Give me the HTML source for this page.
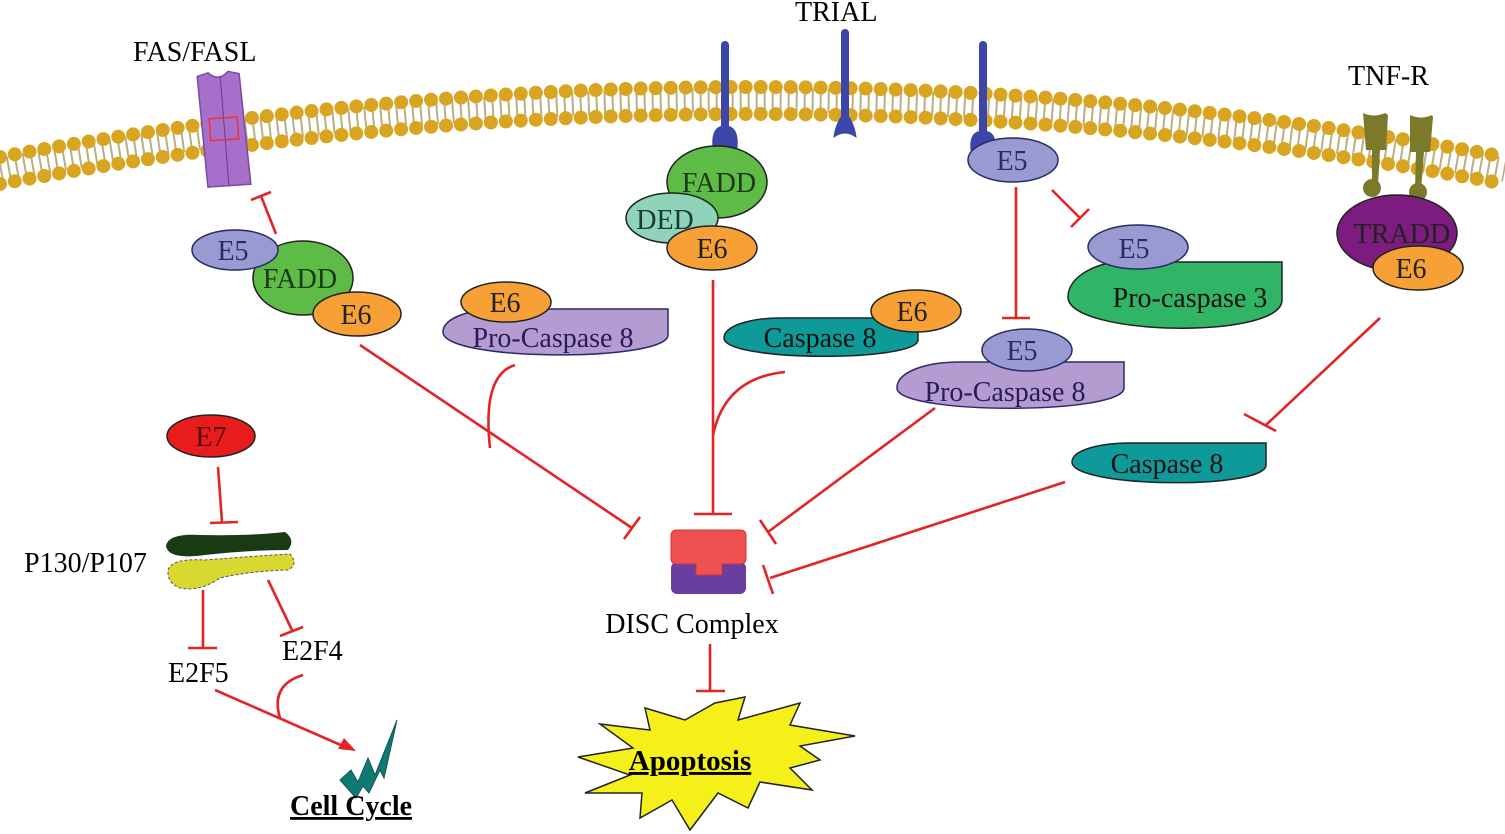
<!DOCTYPE html>
<html><head><meta charset="utf-8"><style>
html,body{margin:0;padding:0;background:#fff;}
svg{display:block}
text{font-family:"Liberation Serif",serif;}
</style></head><body>
<svg width="1505" height="834" viewBox="0 0 1505 834" xmlns="http://www.w3.org/2000/svg">
<!-- membrane -->
<g fill="none">
<path d="M0,170 Q752,30 1505,170" stroke="#8a7a2a" stroke-width="24" stroke-dasharray="2 6" opacity="0.6"/>
<path d="M0,157 Q752,17 1505,157" stroke="#d9a520" stroke-width="14" stroke-linecap="round" stroke-dasharray="0 15"/>
<path d="M0,184 Q752,44 1505,184" stroke="#d9a520" stroke-width="14" stroke-linecap="round" stroke-dasharray="0 15"/>
</g>
<!-- FAS receptor -->
<g transform="rotate(-4 222 130)">
<path d="M201,75 L212,72 Q222,82 232,72 L243,75 L247,186 L204,186 Z" fill="#a66fc9" stroke="#7a4a9a" stroke-width="1.5"/>
<line x1="224" y1="76" x2="225" y2="186" stroke="#6a3a8a" stroke-width="1"/>
<rect x="210" y="118" width="28" height="22" fill="none" stroke="#e33" stroke-width="1.5"/>
</g>
<text x="133" y="61" font-size="28">FAS/FASL</text>
<!-- TRIAL receptors -->
<g fill="#3b46a8" stroke="#3b46a8">
<line x1="725" y1="45" x2="725" y2="135" stroke-width="8" stroke-linecap="round"/>
<path d="M713,148 Q711,126 725,126 Q739,126 737,148 Z" stroke-width="1"/>
<line x1="845" y1="33" x2="845" y2="125" stroke-width="8" stroke-linecap="round"/>
<path d="M834,137 Q836,122 845,112 Q854,122 856,137 Q845,129 834,137 Z" stroke-width="1"/>
<line x1="983" y1="45" x2="983" y2="138" stroke-width="8" stroke-linecap="round"/>
<path d="M971,150 Q969,131 983,131 Q997,131 995,150 Z" stroke-width="1"/>
</g>
<text x="795" y="21" font-size="28">TRIAL</text>
<!-- TNF-R -->
<g fill="#7a7a2a">
<path d="M1363,113 Q1374,118 1385,113 L1388,115 L1386,150 L1380,150 L1378,185 L1372,185 L1372,150 L1366,150 Z"/>
<circle cx="1372" cy="188" r="9"/>
<path d="M1410,115 Q1421,120 1432,115 L1433,117 L1430,152 L1424,152 L1421,190 L1415,190 L1416,152 L1410,152 Z"/>
<circle cx="1418" cy="192" r="9"/>
</g>
<text x="1348" y="85" font-size="28">TNF-R</text>
<g font-size="28" text-anchor="middle" stroke-width="1.5">
<!-- TRADD -->
<ellipse cx="1397" cy="233" rx="60" ry="38" fill="#7b1c7e" stroke="#222"/>
<text x="1402" y="243" fill="#222">TRADD</text>
<ellipse cx="1418" cy="268" rx="45" ry="22" fill="#f7a035" stroke="#222"/>
<text x="1411" y="278" fill="#222">E6</text>
<!-- FADD center -->
<ellipse cx="717" cy="182" rx="50" ry="36" fill="#5dbb46" stroke="#222"/>
<text x="719" y="192" fill="#1a3a1a">FADD</text>
<ellipse cx="672" cy="218" rx="46" ry="25" fill="#8fd4b8" stroke="#222"/>
<text x="665" y="229" fill="#1a3a3a">DED</text>
<ellipse cx="712" cy="248" rx="45" ry="22" fill="#f7a035" stroke="#222"/>
<text x="712" y="258" fill="#222">E6</text>
<!-- E5 right top -->
<ellipse cx="1013" cy="160" rx="45" ry="22" fill="#9a9ad2" stroke="#2a2a6a"/>
<text x="1012" y="170" fill="#2a2a6a">E5</text>
<!-- Pro-caspase 3 -->
<path d="M1282,262 V300 C1282,340 1068,336 1068,297 C1068,275 1100,262 1120,262 Z" fill="#2fb565" stroke="#222"/>
<ellipse cx="1138" cy="247" rx="50" ry="22" fill="#9a9ad2" stroke="#2a2a6a"/>
<text x="1134" y="258" fill="#2a2a6a">E5</text>
<text x="1190" y="307" fill="#111">Pro-caspase 3</text>
<!-- left FADD -->
<ellipse cx="303" cy="278" rx="50" ry="37" fill="#5dbb46" stroke="#222"/>
<text x="300" y="288" fill="#1a3a1a">FADD</text>
<ellipse cx="235" cy="250" rx="43" ry="20" fill="#9a9ad2" stroke="#2a2a6a"/>
<text x="233" y="260" fill="#2a2a6a">E5</text>
<ellipse cx="357" cy="314" rx="44" ry="22" fill="#f7a035" stroke="#222"/>
<text x="356" y="324" fill="#222">E6</text>
<!-- Pro-Caspase 8 left -->
<path d="M668,309 V335 C668,362 443,362 443,332 C443,318 470,309 500,309 Z" fill="#b49bd0" stroke="#2a2a6a"/>
<ellipse cx="506" cy="302" rx="45" ry="20" fill="#f7a035" stroke="#222"/>
<text x="505" y="312" fill="#222">E6</text>
<text x="553" y="347" fill="#2a1a5a">Pro-Caspase 8</text>
<!-- Caspase 8 center -->
<path d="M918,318 V340 C918,362 724,362 724,338 C724,326 750,318 780,318 Z" fill="#0e9a98" stroke="#222"/>
<text x="820" y="347" fill="#111">Caspase 8</text>
<ellipse cx="916" cy="311" rx="45" ry="21" fill="#f7a035" stroke="#222"/>
<text x="912" y="321" fill="#222">E6</text>
<!-- Pro-Caspase 8 right -->
<path d="M1124,362 V388 C1124,415 897,415 897,388 C897,372 925,362 960,362 Z" fill="#b49bd0" stroke="#2a2a6a"/>
<ellipse cx="1027" cy="350" rx="45" ry="21" fill="#9a9ad2" stroke="#2a2a6a"/>
<text x="1022" y="360" fill="#2a2a6a">E5</text>
<text x="1005" y="401" fill="#2a1a5a">Pro-Caspase 8</text>
<!-- Caspase 8 right -->
<path d="M1266,443 V465 C1266,490 1072,488 1072,462 C1072,450 1100,443 1130,443 Z" fill="#0e9a98" stroke="#222"/>
<text x="1167" y="473" fill="#111">Caspase 8</text>
<!-- E7 -->
<ellipse cx="211" cy="436" rx="44" ry="21" fill="#e81c1c" stroke="#222"/>
<text x="211" y="446" fill="#5a0a0a">E7</text>
</g>
<!-- P130/P107 -->
<path d="M166,546 Q168,533 200,535 Q250,536 285,532 Q296,540 288,550 Q250,550 205,555 Q168,560 166,546 Z" fill="#1a3a14"/>
<path d="M168,570 Q172,558 205,560 Q255,556 290,554 Q299,564 288,570 Q250,571 220,578 Q200,592 180,588 Q167,583 168,570 Z" fill="#d8d830" stroke="#555" stroke-width="1" stroke-dasharray="3 2"/>
<text x="24" y="572" font-size="28">P130/P107</text>
<text x="168" y="682" font-size="28">E2F5</text>
<text x="282" y="660" font-size="28">E2F4</text>
<!-- cell cycle bolt -->
<path d="M397,720 L375,775 L368,758 L358,782 L351,770 L340,780 L356,798 L363,786 L369,793 L380,770 L384,778 Z" fill="#0f7a72" stroke="#0a5a54" stroke-width="1"/>
<text x="290" y="815" font-size="28" font-weight="bold" text-decoration="underline">Cell Cycle</text>
<!-- DISC -->
<rect x="671" y="562" width="75" height="32" rx="6" fill="#6a3ea0"/>
<path d="M677,530 H740 Q746,530 746,536 V558 Q746,564 740,564 H722 V575 H696 V564 H677 Q671,564 671,558 V536 Q671,530 677,530 Z" fill="#ef5050" stroke="#c33" stroke-width="1"/>
<text x="692" y="633" font-size="28" text-anchor="middle">DISC Complex</text>
<!-- Apoptosis -->
<path d="M715,703 L745,697 L738,720 L800,703 L790,725 L855,736 L800,746 L820,760 L790,768 L812,790 L760,782 L748,808 L718,793 L690,830 L672,800 L640,818 L642,793 L585,793 L630,775 L578,757 L633,748 L600,724 L650,730 L645,708 L685,720 Z" fill="#f6f01a" stroke="#222" stroke-width="1.5"/>
<text x="690" y="770" font-size="29" font-weight="bold" text-anchor="middle" text-decoration="underline">Apoptosis</text>
<!-- connectors -->
<g stroke="#e32424" stroke-width="2.6" fill="none">
<line x1="276" y1="234" x2="261" y2="196"/><line x1="251" y1="200" x2="271" y2="192"/>
<line x1="360" y1="345" x2="632" y2="528"/><line x1="624" y1="539" x2="640" y2="517"/>
<path d="M515,365 Q482,375 490,448"/>
<line x1="713" y1="280" x2="713" y2="514"/><line x1="694" y1="514" x2="732" y2="514"/>
<path d="M785,372 Q725,378 713,435"/>
<line x1="1016" y1="187" x2="1016" y2="318"/><line x1="1002" y1="318" x2="1030" y2="318"/>
<line x1="1052" y1="190" x2="1080" y2="218"/><line x1="1071" y1="227" x2="1089" y2="209"/>
<line x1="935" y1="408" x2="768" y2="532"/><line x1="760" y1="520" x2="776" y2="544"/>
<line x1="1380" y1="318" x2="1266" y2="425"/><line x1="1244" y1="414" x2="1276" y2="431"/>
<line x1="1065" y1="482" x2="770" y2="578"/><line x1="763" y1="565" x2="773" y2="594"/>
<line x1="710" y1="644" x2="710" y2="691"/><line x1="696" y1="691" x2="725" y2="691"/>
<line x1="218" y1="467" x2="222" y2="522"/><line x1="210" y1="523" x2="238" y2="522"/>
<line x1="203" y1="590" x2="203" y2="648"/><line x1="188" y1="648" x2="217" y2="648"/>
<line x1="268" y1="580" x2="292" y2="630"/><line x1="280" y1="636" x2="303" y2="627"/>
<line x1="215" y1="690" x2="343" y2="746"/>
<path d="M303,675 Q270,685 280,718"/>
</g>
<path d="M356,751 L338,749 L344,738 Z" fill="#e32424"/>
</svg>
</body></html>
